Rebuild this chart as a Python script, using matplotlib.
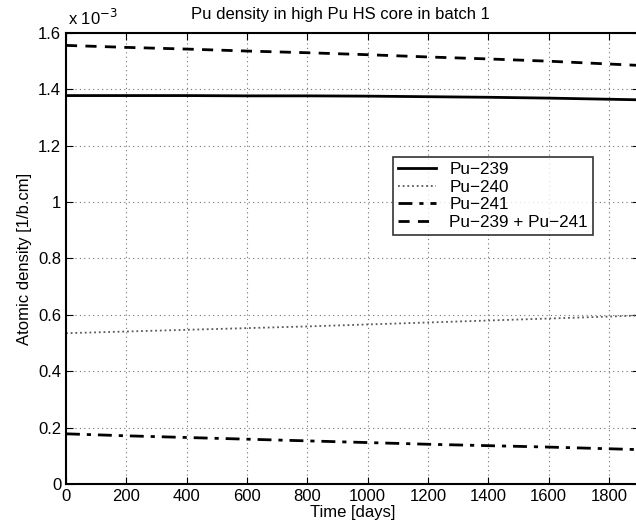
import numpy as np
import matplotlib.pyplot as plt
from matplotlib.ticker import FormatStrFormatter

# time steps (days) and atomic densities (x 1e-3 1/b.cm)
days = [0, 200, 400, 600, 800, 1000, 1200, 1400, 1600, 1800, 1900]
pu239 = [1.378, 1.378, 1.378, 1.377, 1.377, 1.376, 1.374, 1.372, 1.369, 1.365, 1.363]
pu240 = [0.535, 0.541, 0.547, 0.553, 0.559, 0.566, 0.573, 0.580, 0.587, 0.594, 0.598]
pu241 = [0.178, 0.171, 0.165, 0.159, 0.153, 0.147, 0.141, 0.136, 0.131, 0.125, 0.122]
pu_fiss = [1.556, 1.549, 1.543, 1.536, 1.530, 1.523, 1.515, 1.508, 1.500, 1.490, 1.485]

plt.rcParams['font.family'] = ['Liberation Sans', 'DejaVu Sans']

fig = plt.figure(figsize=(6.36, 5.29), dpi=100)
ax = fig.add_axes([66/636, 45/529, 573/636, 451/529])

ax.plot(days, pu239, 'k-', lw=2, label='Pu\u2212239')
ax.plot(days, pu240, color='0.35', ls=(0, (1, 1.6)), lw=1.3, label='Pu\u2212240')
ax.plot(days, pu241, 'k', ls=(0, (5, 2.5, 1.5, 2.5)), lw=2, label='Pu\u2212241')
ax.plot(days, pu_fiss, 'k', ls=(0, (4, 3)), lw=2, label='Pu\u2212239 + Pu\u2212241')

ax.set_xlim(0, 1900)
ax.set_ylim(0, 1.6)
ax.set_xticks(np.arange(0, 1801, 200))
ax.set_yticks(np.arange(0, 1.61, 0.2))
ax.yaxis.set_major_formatter(FormatStrFormatter('%g'))
ax.grid(True, ls=(0, (1, 3)), color='0.45', lw=0.8)
ax.tick_params(direction='in', top=True, right=True, labelsize=12, length=5)
for s in ax.spines.values():
    s.set_linewidth(1.5)

fig.text(340/636, 1 - 14/529, 'Pu density in high Pu HS core in batch 1',
         ha='center', va='center', fontsize=12)
fig.text(68/636, 1 - 18/529, 'x 10$^{-3}$', ha='left', va='center', fontsize=12)
ax.set_xlabel('Time [days]', fontsize=12, labelpad=1)
ax.set_ylabel('Atomic density [1/b.cm]', fontsize=12)

leg = ax.legend(loc='upper left', bbox_to_anchor=((393 - 66)/573, (484 - 157)/451),
                fontsize=12.3, frameon=True, fancybox=False, edgecolor='k',
                handlelength=2.2, borderpad=0.3, labelspacing=0.15, borderaxespad=0)
leg.get_frame().set_linewidth(1.2)

fig.savefig('out.png', dpi=100)
